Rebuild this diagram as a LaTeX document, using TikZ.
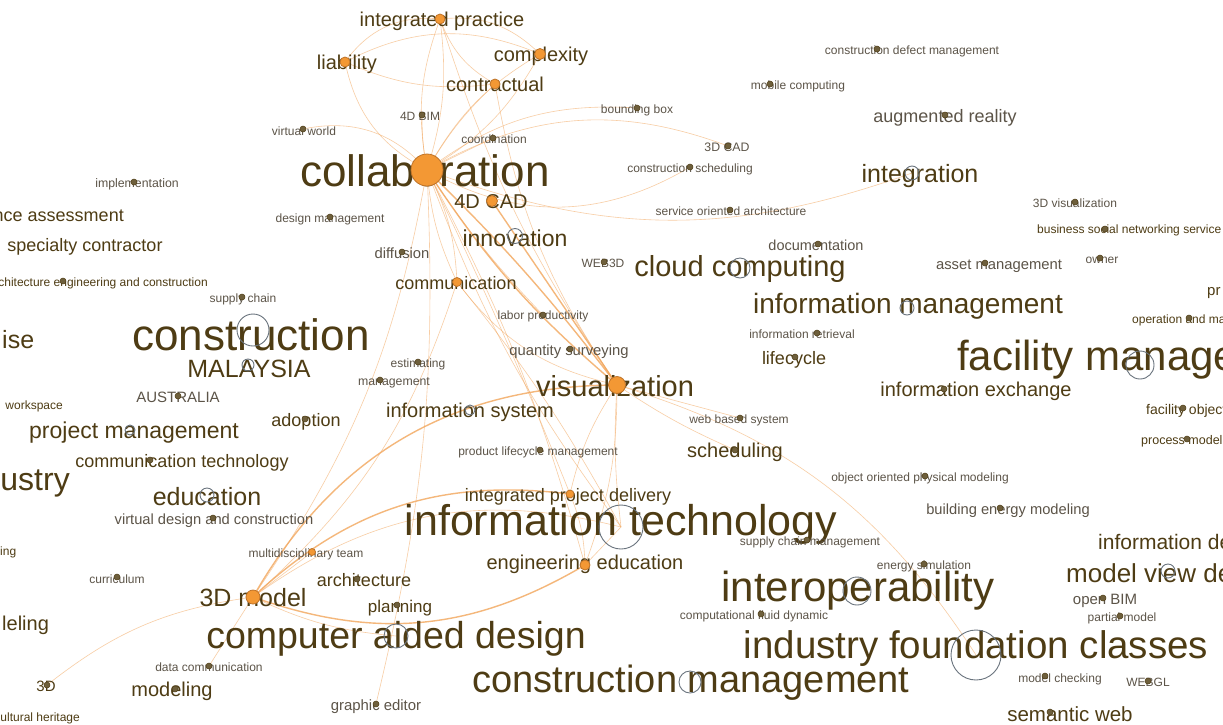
\documentclass[tikz,border=0pt]{standalone}
\usepackage{fontspec}
\setmainfont{Liberation Sans}
\definecolor{kwdark}{RGB}{78,60,20}
\definecolor{kwgrey}{RGB}{92,84,72}
\definecolor{hubfill}{RGB}{243,152,52}
\definecolor{hubdraw}{RGB}{190,115,40}
\definecolor{ringgrey}{RGB}{105,115,125}
\definecolor{dotfill}{RGB}{110,95,60}
\definecolor{linkc}{RGB}{242,165,90}
\pgfdeclarelayer{bg}
\pgfsetlayers{bg,main}
\begin{document}
\begin{tikzpicture}[x=1pt,y=-1pt,
  kw/.style={anchor=mid,inner sep=0pt,yshift={-0.26*#1pt},text=kwdark,font=\fontsize{#1}{#1}\selectfont},
  kws/.style={kw=#1,text=kwgrey},
  hub/.style={circle,inner sep=0pt,minimum size=#1pt,fill=hubfill,draw=hubdraw,line width=0.8pt},
  ring/.style={circle,inner sep=0pt,minimum size=#1pt,draw=ringgrey,line width=0.9pt},
  dot/.style={circle,inner sep=0pt,minimum size=6pt,fill=dotfill,draw=kwdark,line width=0.5pt},
  link/.style={draw=linkc,line width=0.6pt,opacity=0.55},
  heavylink/.style={draw=linkc,line width=1.4pt,opacity=0.8}]
\useasboundingbox (0,0) rectangle (1223,724);
\clip (0,0) rectangle (1223,724);
\foreach \x/\y/\s/\t [count=\k] in {442/19/20/integrated practice, 347/62/20/liability, 541/54/20/complexity,
    495/84/20/contractual, 425/172/44/collaboration, 920/173/25/integration, 491/201/20/4D CAD,
    515/238/23/innovation, 740/266/29/cloud computing, 456/282/18/communication,
    908/304/28/information management, 251/336/44/construction, 249/368/25/MALAYSIA,
    615/386/29/visualization, 976/389/20/information exchange, 470/410/20/information system,
    306/419/18/adoption, 134/430/23/project management, 735/450/20/scheduling,
    182/460/18/communication technology, 207/496/25/education, 621/522/43/information technology,
    585/562/20/engineering education, 858/588/42/interoperability, 253/597/25/3D model,
    396/636/37.5/computer aided design, 976/646/38.5/industry foundation classes,
    691/680/38/construction management, 85/244/18/specialty contractor, 364/579/18/architecture,
    400/605/17/planning, 172/689/20/modeling, 1070/714/20.5/semantic web,
    568/494/18/integrated project delivery, 794/357/18/lifecycle, 46/685/15/3D}
    \node[kw=\s] (w\k) at (\x,\y) {\t};
\foreach \x/\y/\s/\t [count=\k] in {945/115/18/augmented reality, 1008/508/14.7/building energy modeling,
    214/518/14.7/virtual design and construction, 178/396/15/AUSTRALIA, 999/263/14.8/asset management,
    816/244/14.5/documentation, 402/252/14.8/diffusion, 569/349/14.8/quantity surveying,
    1105/598/15/open BIM, 376/704/14.9/graphic editor, 304/130/12/virtual world, 420/115/12/4D BIM,
    494/138/12/coordination, 637/108/12/bounding box, 727/146/12.3/3D CAD,
    690/167/12/construction scheduling, 798/84/12/mobile computing,
    912/49/12/construction defect management, 137/182/12.3/implementation, 330/217/12/design management,
    731/210/12/service oriented architecture, 1075/202/12/3D visualization, 1102/258/12/owner,
    603/262/12/WEB3D, 243/297/12/supply chain, 543/314/12/labor productivity,
    802/333/12/information retrieval, 418/362/12/estimating, 394/380/12.3/management,
    739/418/12/web based system, 538/450/12/product lifecycle management,
    920/476/12/object oriented physical modeling, 306/552/12/multidisciplinary team,
    810/540/12/supply chain management, 117/578/12/curriculum, 924/564/12/energy simulation,
    754/614/12/computational fluid dynamic, 1122/616/12/partial model, 209/666/12/data communication,
    1060/677/12/model checking, 1148/681/12/WEBGL}
    \node[kws=\s] (g\k) at (\x,\y) {\t};
\foreach \x/\y/\s/\a/\t [count=\k] in {124/214/18/mid east/performance assessment,
    208/281/12/mid east/architecture engineering and construction, 2/339/25/mid west/ise,
    63/404/12/mid east/workspace, 70/480/32/mid east/industry, 0/550/12/mid west/ing,
    2/623/20/mid west/leling, 80/716/12/mid east/cultural heritage,
    957/357/42/mid west/facility management, 1037/228/12/mid west/business social networking service,
    1207/289/15/mid west/pr, 1132/318/12/mid west/operation and maintenance,
    1146/408/14/mid west/facility object, 1141/439/12.5/mid west/process modeling,
    1098/541/21/mid west/information delivery, 1066/573/26/mid west/model view definition}
    \node[kw=\s,anchor=\a] (e\k) at (\x,\y) {\t};
\foreach \n/\x/\y/\d in {col/427/170/32, vis/617/385/17, m3d/253/597/14, ip/440/19/10, lia/345/62/10,
    cmp/540/54/11, con/495/84/10, com/457/282/9, ee/585/565/10, ipd/570/494/8, mdt/312/552/7, cad4/492/201/11}
    \node[hub=\d] (\n) at (\x,\y) {};
\foreach \n/\x/\y/\d in {cons/253/330/32, itech/621/527/44, interop/857/591/28, ifc/976/655/50,
    fm/1140/365/28, cm/690/682/22, cad/396/636/24, cc/740/268/20, inn/515/236/15, edu/207/495/14,
    mal/248/365/12, im/907/308/14, intg/912/173/14, mvd/1168/571/14, isys/470/410/10, pm/130/430/10}
    \node[ring=\d] (\n) at (\x,\y) {};
\foreach \n/\x/\y in {bim4/422/115, vw/303/129, coo/493/138, bb/637/108, cad3/728/146, cs/690/167,
    mob/770/84, cdm/877/49, impl/134/182, dm/330/217, soa/730/210, vis3/1075/202, bsn/1105/229,
    dif/402/252, doc/818/244, own/1100/258, web3/604/262, aec/63/281, sc/242/297, lp/543/315,
    ir/817/333, qs/570/349, lc/795/357, est/418/362, mgt/380/380, oam/1189/318, ie/944/389,
    aus/178/396, wbs/740/418, fo/1183/408, adp/305/419, pmod/1187/439, plm/540/450, sch/735/450,
    ct/150/460, oop/925/476, bem/1000/508, vdc/213/518, scm/807/540, cur/117/577, arc/357/579,
    es/924/564, pln/397/605, ob/1103/598, pam/1120/616, cfd/761/614, dc/209/666, d3/47/685,
    mod/175/689, mc/1045/676, wgl/1148/681, ge/376/704, sw/1050/712, ar/945/115, am/985/263}
    \node[dot] (\n) at (\x,\y) {};
\begin{pgfonlayer}{bg}
\fill[white] (0,0) rectangle (1223,724);
\foreach \a/\b/\c in {lia/ip/30, lia/cmp/25, ip/cmp/25, ip/con/-20, lia/con/-15,
    col/ip/15, col/ip/-12, col/lia/25, col/cmp/-15, col/cmp/15, col/con/8, col/bim4/5,
    vw/col/30, col/coo/0, col/bb/20, col/cad3/25, col/cs/-30, col/intg/-20,
    col/com/-10, col/com/12, col/itech/-8, col/ee/6, col/ipd/2, col/m3d/12, col/ge/8, col/lp/-5,
    vis/ifc/20, vis/sch/-5, vis/wbs/0, vis/itech/-5, vis/ipd/-10, vis/ee/10, com/vis/-20,
    vis/con/12, vis/ip/8, m3d/mdt/0, m3d/cad/-10, m3d/dc/0, d3/m3d/15, com/itech/5, com/m3d/15,
    ee/itech/0, ee/ipd/-10, m3d/itech/25}
    \draw[link] (\a.center) to[bend left=\c] (\b.center);
\foreach \a/\b/\c in {col/vis/-8, col/vis/4, cad4/vis/0, vis/m3d/-30, m3d/ipd/25, m3d/ee/-25}
    \draw[heavylink] (\a.center) to[bend left=\c] (\b.center);
\end{pgfonlayer}
\end{tikzpicture}
\end{document}
